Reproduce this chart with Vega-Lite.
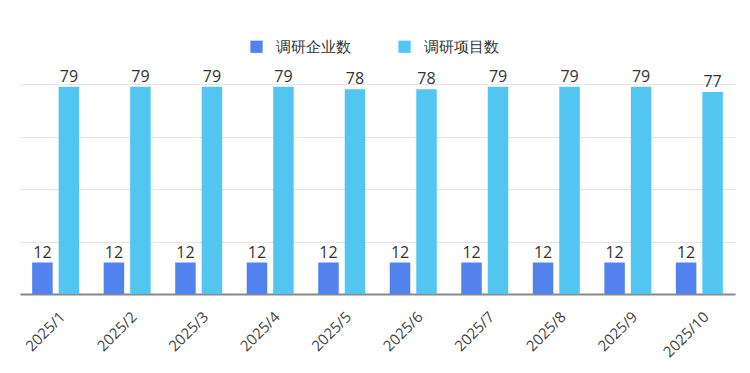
{
  "$schema": "https://vega.github.io/schema/vega-lite/v6.json",
  "width": 715,
  "height": 210,
  "autosize": "none",
  "padding": {"left": 20, "top": 84, "right": 15, "bottom": 79},
  "background": "white",
  "config": {"view": {"stroke": null}},
  "data": {
    "values": [
      {"month": "2025/1", "series": "调研企业数", "value": 12},
      {"month": "2025/1", "series": "调研项目数", "value": 79},
      {"month": "2025/2", "series": "调研企业数", "value": 12},
      {"month": "2025/2", "series": "调研项目数", "value": 79},
      {"month": "2025/3", "series": "调研企业数", "value": 12},
      {"month": "2025/3", "series": "调研项目数", "value": 79},
      {"month": "2025/4", "series": "调研企业数", "value": 12},
      {"month": "2025/4", "series": "调研项目数", "value": 79},
      {"month": "2025/5", "series": "调研企业数", "value": 12},
      {"month": "2025/5", "series": "调研项目数", "value": 78},
      {"month": "2025/6", "series": "调研企业数", "value": 12},
      {"month": "2025/6", "series": "调研项目数", "value": 78},
      {"month": "2025/7", "series": "调研企业数", "value": 12},
      {"month": "2025/7", "series": "调研项目数", "value": 79},
      {"month": "2025/8", "series": "调研企业数", "value": 12},
      {"month": "2025/8", "series": "调研项目数", "value": 79},
      {"month": "2025/9", "series": "调研企业数", "value": 12},
      {"month": "2025/9", "series": "调研项目数", "value": 79},
      {"month": "2025/10", "series": "调研企业数", "value": 12},
      {"month": "2025/10", "series": "调研项目数", "value": 77}
    ]
  },
  "encoding": {
    "x": {
      "field": "month", "type": "nominal", "sort": null,
      "scale": {"paddingInner": 0.343, "paddingOuter": 0.17},
      "axis": {
        "title": null, "labelAngle": -45, "labelAlign": "right", "labelBaseline": "middle",
        "labelFont": "Open Sans", "labelFontSize": 15, "labelColor": "#444444",
        "ticks": false, "labelPadding": 20, "labelOffset": 7, "domainColor": "#888888", "domainWidth": 2, "grid": false
      }
    },
    "xOffset": {"field": "series", "type": "nominal", "scale": {"paddingInner": 0.226, "paddingOuter": 0}},
    "y": {
      "field": "value", "type": "quantitative",
      "scale": {"domain": [0, 80], "nice": false},
      "axis": {
        "title": null, "labels": false, "ticks": false, "domain": false,
        "values": [0, 20, 40, 60, 80], "gridColor": "#e5e5e5", "gridWidth": 1
      }
    }
  },
  "layer": [
    {
      "mark": {"type": "bar"},
      "encoding": {
        "color": {
          "field": "series", "type": "nominal",
          "scale": {"domain": ["调研企业数", "调研项目数"], "range": ["#5282EE", "#52C6F0"]},
          "legend": {
            "title": null, "orient": "none", "direction": "horizontal",
            "legendX": 229, "legendY": -45,
            "symbolType": "square", "symbolSize": 150, "symbolStrokeWidth": 0,
            "labelFont": "Open Sans", "labelFontSize": 15, "labelColor": "#333333",
            "labelOffset": 12, "columnPadding": 46
          }
        }
      }
    },
    {
      "mark": {"type": "text", "dy": -10, "font": "Open Sans", "fontSize": 16, "color": "#333333"},
      "encoding": {"text": {"field": "value", "type": "quantitative"}}
    }
  ]
}
